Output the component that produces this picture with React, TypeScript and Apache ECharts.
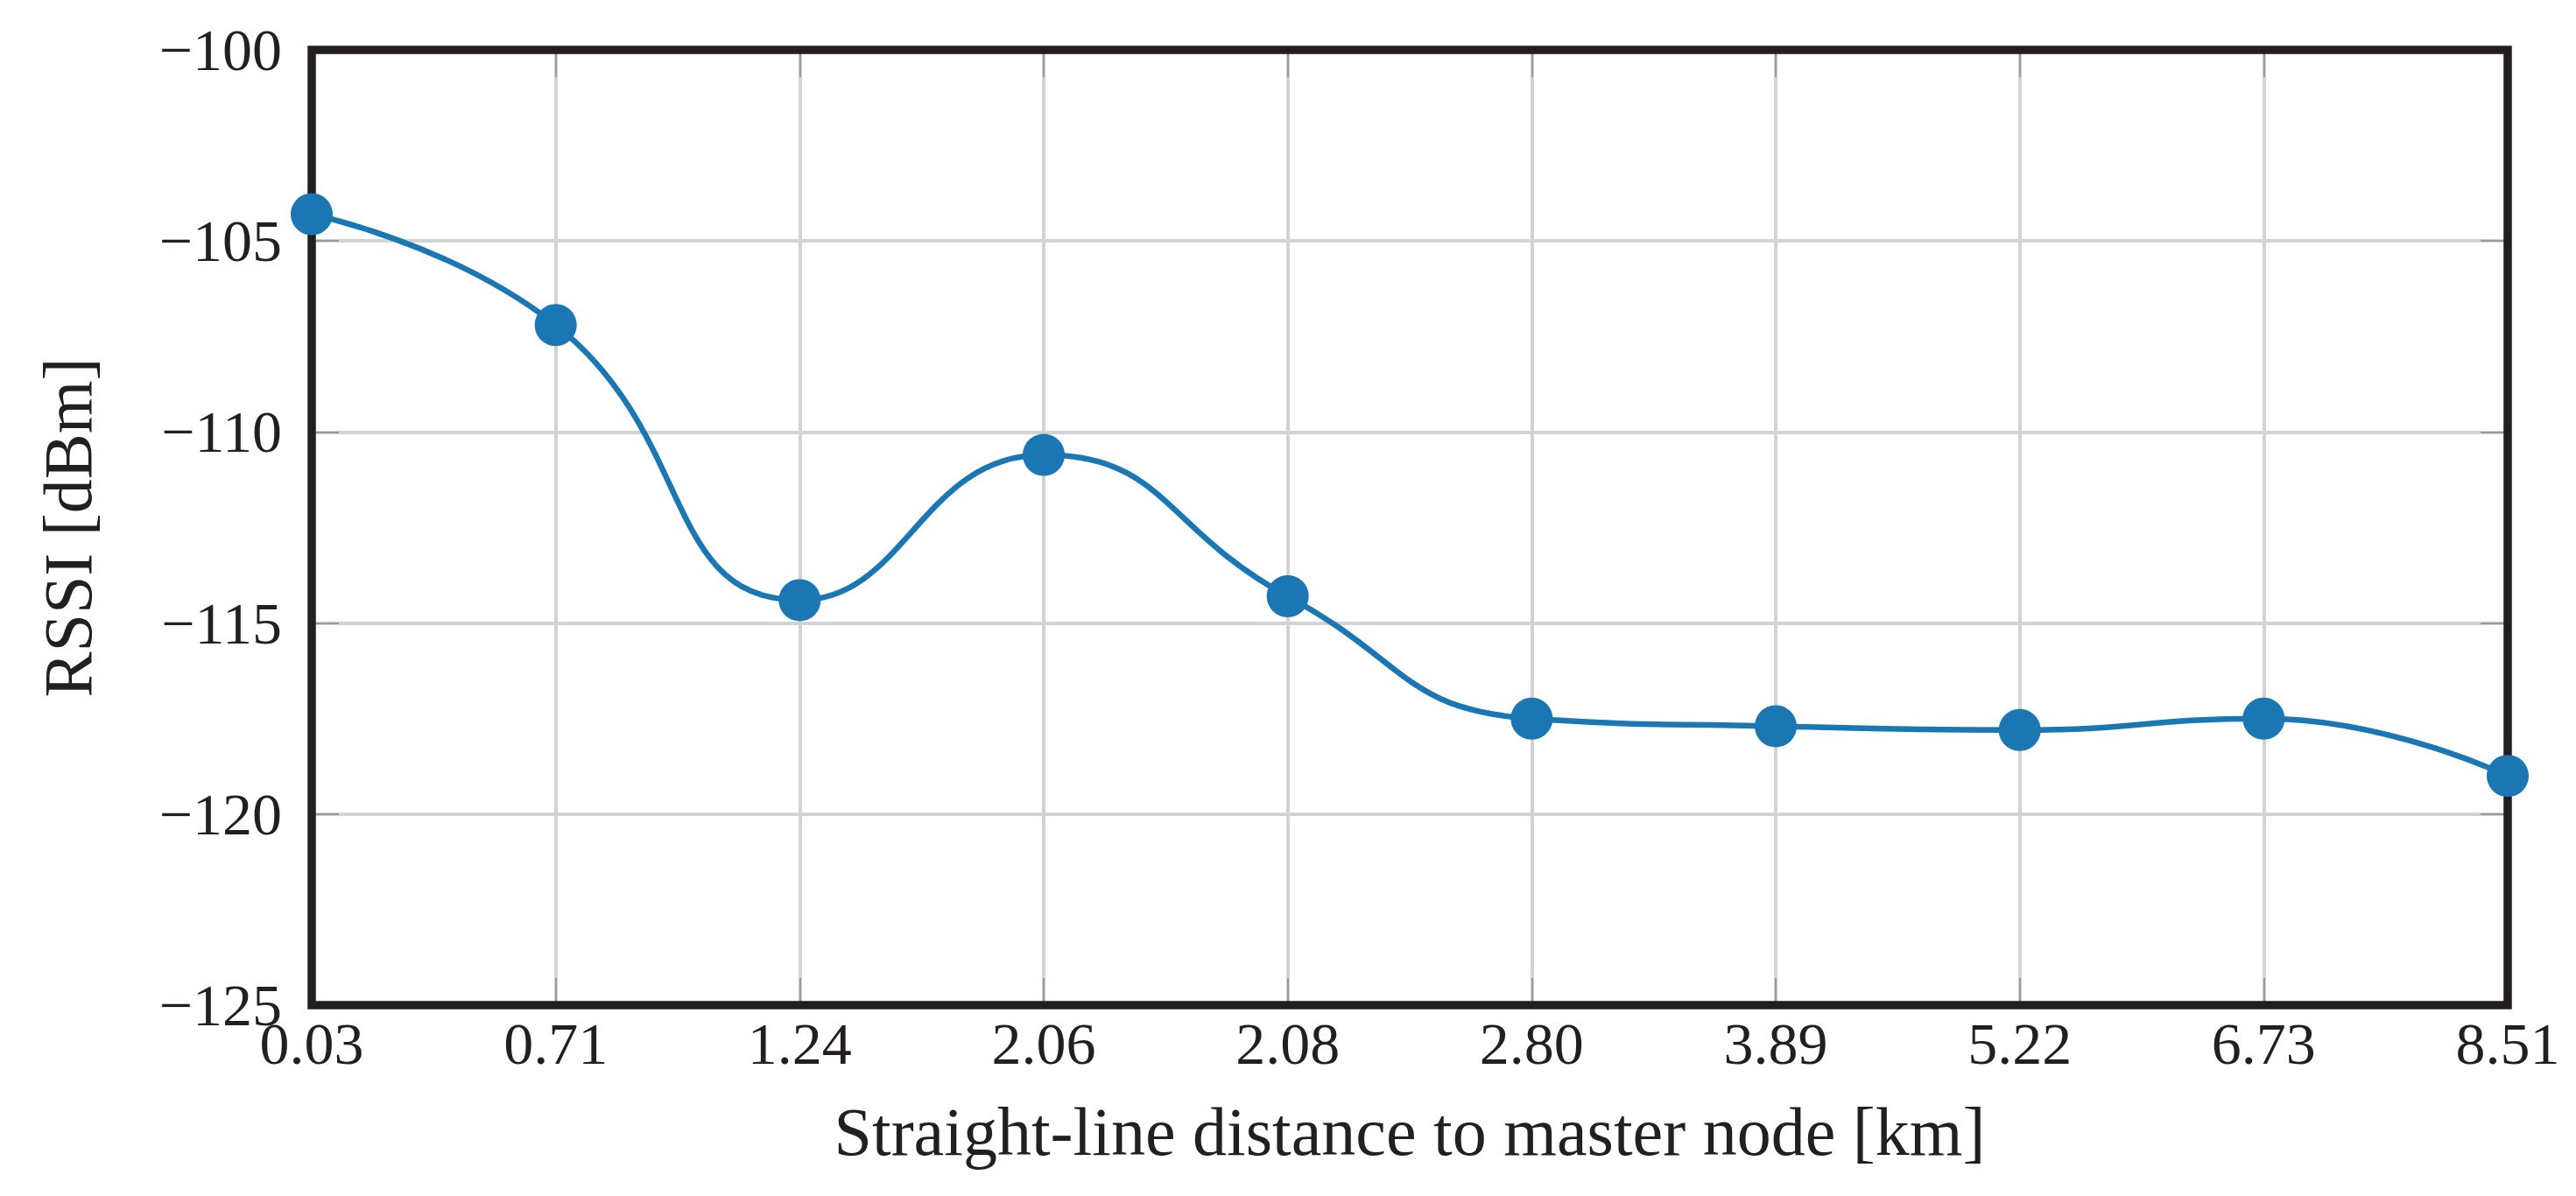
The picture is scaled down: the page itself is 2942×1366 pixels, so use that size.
import React, { useEffect, useRef } from 'react';
import * as echarts from 'echarts';

// distance to master node [km]
const distances = ['0.03', '0.71', '1.24', '2.06', '2.08', '2.80', '3.89', '5.22', '6.73', '8.51'];
// RSSI [dBm]
const rssi = [-104.3, -107.2, -114.4, -110.6, -114.3, -117.5, -117.7, -117.8, -117.5, -119.0];
const yTicks = { min: -125, max: -100, step: 5 };

const W = 2942;
const H = 1366;
const PLOT = { left: 356, right: 78, top: 57, bottom: 218 };

const FONT = '"Liberation Serif", "DejaVu Serif", serif';
const INK = '#231f20';
const BLUE = '#1b77b3';
const GRID = '#d3d3d3';
const TICK = '#9a9a9a';

const App: React.FC = () => {
  const chartRef = useRef<HTMLDivElement>(null);

  useEffect(() => {
    if (!chartRef.current) return;
    document.body.style.margin = '0';
    const chart = echarts.init(chartRef.current, null, { renderer: 'svg' });

    const minus = (v: number) => String(v).replace('-', '\u2212');
    const tick = { show: true, inside: true, length: 31, lineStyle: { color: TICK, width: 2 } };

    chart.setOption({
      animation: false,
      backgroundColor: '#ffffff',
      grid: { ...PLOT, containLabel: false },
      // heavy frame around the plot, under the series
      graphic: [
        {
          type: 'rect',
          z: 3,
          silent: true,
          shape: {
            x: PLOT.left,
            y: PLOT.top,
            width: W - PLOT.left - PLOT.right,
            height: H - PLOT.top - PLOT.bottom,
          },
          style: { fill: 'none', stroke: INK, lineWidth: 9.5 },
        },
      ],
      xAxis: [
        {
          type: 'category',
          data: distances,
          boundaryGap: false,
          position: 'bottom',
          name: 'Straight-line distance to master node [km]',
          nameLocation: 'middle',
          nameGap: 105,
          nameTextStyle: { fontFamily: FONT, fontSize: 78, color: INK },
          axisLine: { show: false },
          axisTick: tick,
          axisLabel: { fontFamily: FONT, fontSize: 68, color: INK, margin: 10, interval: 0 },
          splitLine: { show: true, lineStyle: { color: GRID, width: 4 } },
        },
        {
          type: 'category',
          data: distances,
          boundaryGap: false,
          position: 'top',
          axisLine: { show: false },
          axisTick: tick,
          axisLabel: { show: false },
          splitLine: { show: false },
        },
      ],
      yAxis: [
        {
          type: 'value',
          min: yTicks.min,
          max: yTicks.max,
          interval: yTicks.step,
          position: 'left',
          name: 'RSSI [dBm]',
          nameLocation: 'middle',
          nameGap: 240,
          nameTextStyle: { fontFamily: FONT, fontSize: 78, color: INK },
          axisLine: { show: false },
          axisTick: tick,
          axisLabel: { fontFamily: FONT, fontSize: 68, color: INK, margin: 34, formatter: minus },
          splitLine: { show: true, lineStyle: { color: GRID, width: 4 } },
        },
        {
          type: 'value',
          min: yTicks.min,
          max: yTicks.max,
          interval: yTicks.step,
          position: 'right',
          axisLine: { show: false },
          axisTick: tick,
          axisLabel: { show: false },
          splitLine: { show: false },
        },
      ],
      series: [
        {
          type: 'line',
          data: rssi,
          smooth: true,
          clip: false,
          symbol: 'circle',
          symbolSize: 48,
          lineStyle: { color: BLUE, width: 6.5 },
          itemStyle: { color: BLUE },
          z: 5,
        },
      ],
    });

    return () => {
      chart.dispose();
    };
  }, []);

  return <div ref={chartRef} style={{ width: `${W}px`, height: `${H}px` }} />;
};

export default App;
